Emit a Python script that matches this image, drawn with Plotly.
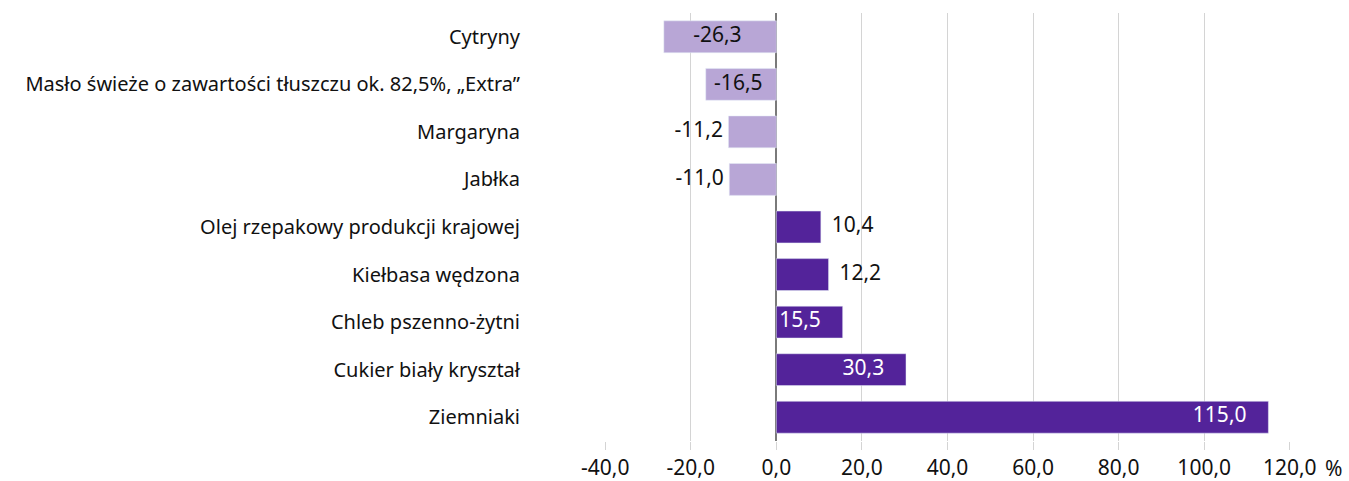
import plotly.graph_objects as go

# dane: zmiana cen (%), od góry do dołu
kategorie = [
    "Cytryny",
    "Masło świeże o zawartości tłuszczu ok. 82,5%, „Extra”",
    "Margaryna",
    "Jabłka",
    "Olej rzepakowy produkcji krajowej",
    "Kiełbasa wędzona",
    "Chleb pszenno-żytni",
    "Cukier biały kryształ",
    "Ziemniaki",
]
wartosci = [-26.3, -16.5, -11.2, -11.0, 10.4, 12.2, 15.5, 30.3, 115.0]
etykieta_w_srodku = [True, True, False, False, False, False, True, True, True]

x_ticki = [-40, -20, 0, 20, 40, 60, 80, 100, 120]
x_etykiety = ["-40,0", "-20,0", "0,0", "20,0", "40,0", "60,0", "80,0", "100,0", "120,0"]

FONT = "Noto Sans"
NB = "\u00a0"
JASNY = "#b8a6d6"
CIEMNY = "#53239a"

fig = go.Figure()

fig.add_trace(go.Bar(
    y=kategorie,
    x=wartosci,
    orientation="h",
    marker_color=[JASNY if v < 0 else CIEMNY for v in wartosci],
    hoverinfo="skip",
))

# etykiety wartości jako osobny ślad tekstowy
tx, ty, tt, tpos, tcol = [], [], [], [], []
for kat, v, wsrodku in zip(kategorie, wartosci, etykieta_w_srodku):
    s = f"{v:.1f}".replace(".", ",")
    ty.append(kat)
    if v < 0 and wsrodku:
        tx.append(v / 2); tt.append(s + NB); tpos.append("middle center"); tcol.append("#111111")
    elif v < 0:
        tx.append(v); tt.append(s + NB); tpos.append("middle left"); tcol.append("#111111")
    elif wsrodku:
        tx.append(v); tt.append(s + NB * 4); tpos.append("middle left"); tcol.append("#ffffff")
    else:
        tx.append(v); tt.append(NB * 2 + s); tpos.append("middle right"); tcol.append("#111111")

fig.add_trace(go.Scatter(
    x=tx, y=ty, text=tt, mode="text",
    textposition=tpos,
    textfont=dict(color=tcol, size=21, family=FONT),
    cliponaxis=False,
    hoverinfo="skip",
))

fig.update_layout(
    width=1349, height=481,
    margin=dict(l=605, r=59, t=13, b=40),
    bargap=0.33,
    showlegend=False,
    plot_bgcolor="white",
    paper_bgcolor="white",
    font=dict(family=FONT, color="#111111"),
)
fig.update_xaxes(
    range=[-40.05, 120.05],
    tickvals=x_ticki, ticktext=x_etykiety,
    tickfont=dict(size=21),
    showgrid=True, gridcolor="#d4d4d4", gridwidth=1,
    ticks="outside", ticklen=8, tickcolor="#d4d4d4",
    zeroline=True, zerolinecolor="#7a7a7a", zerolinewidth=2,
    automargin=False,
)
fig.update_yaxes(
    categoryorder="array", categoryarray=kategorie[::-1],
    tickfont=dict(size=20),
    showgrid=False,
    ticklabelstandoff=84,
    automargin=False,
)
fig.add_annotation(text="%", xref="paper", yref="paper", x=1.0, y=0,
                   xanchor="center", yanchor="middle",
                   xshift=43, yshift=-27, showarrow=False,
                   font=dict(size=21, family=FONT))

# bez domyślnego marginesu strony, żeby wykres zmieścił się w oknie
fig.write_html("out.html", config={"displayModeBar": False},
               post_script="document.body.style.margin='0';")
